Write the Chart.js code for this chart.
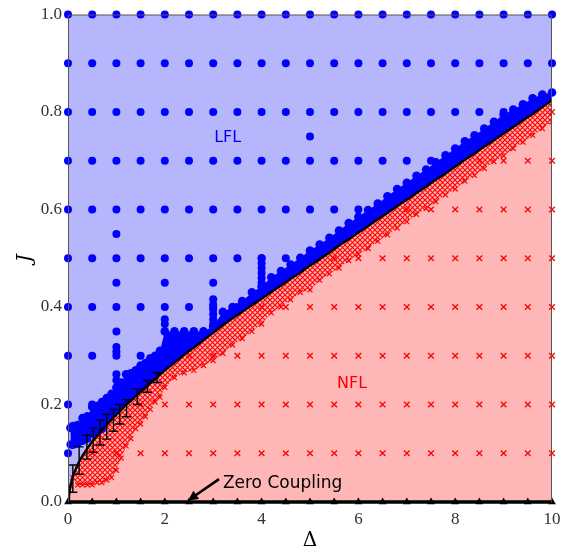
<!DOCTYPE html>
<html>
<head>
<meta charset="utf-8">
<script src="https://cdn.jsdelivr.net/npm/chart.js@4.4.1/dist/chart.umd.min.js"></script>
<style>
  html, body { margin: 0; padding: 0; background: #fff; }
</style>
</head>
<body>
<canvas id="chart" width="576" height="553"></canvas>
<script>
// coarse scan grid
const gridDelta = [0, 0.5, 1, 1.5, 2, 2.5, 3, 3.5, 4, 4.5, 5, 5.5, 6, 6.5, 7, 7.5, 8, 8.5, 9, 9.5, 10];
const gridJ = [0.1, 0.2, 0.3, 0.4, 0.5, 0.6, 0.7, 0.8, 0.9, 1.0];

// phase boundary (black curve)
const boundaryDelta = [0, 0.02, 0.05, 0.1, 0.2, 0.3, 0.4, 0.5, 0.6, 0.7, 0.8, 0.9, 1.0, 1.1, 1.2, 1.3, 1.4, 1.5, 1.6, 1.7, 1.8, 1.9, 2.0,
  2.2, 2.4, 2.6, 2.8, 3.0, 3.2, 3.4, 3.6, 3.8, 4.0, 4.2, 4.4, 4.6, 4.8, 5.0, 5.2, 5.4, 5.6, 5.8, 6.0, 6.2, 6.4, 6.6, 6.8,
  7.0, 7.2, 7.4, 7.6, 7.8, 8.0, 8.2, 8.4, 8.6, 8.8, 9.0, 9.2, 9.4, 9.6, 9.8, 10];
const boundaryJ = [0, 0.012, 0.033, 0.053, 0.077, 0.095, 0.110, 0.124, 0.136, 0.148, 0.158, 0.169, 0.179, 0.189, 0.199, 0.208, 0.217, 0.226, 0.235, 0.244, 0.252, 0.261, 0.270,
  0.286, 0.302, 0.317, 0.332, 0.347, 0.363, 0.377, 0.390, 0.404, 0.417, 0.431, 0.444, 0.458, 0.471, 0.485, 0.498, 0.512, 0.526, 0.539, 0.553, 0.566, 0.580, 0.593, 0.607,
  0.620, 0.634, 0.647, 0.661, 0.674, 0.688, 0.702, 0.715, 0.729, 0.742, 0.756, 0.769, 0.783, 0.796, 0.810, 0.824];

// refined samples hugging the boundary
const bandDelta = [0.05, 0.1, 0.2, 0.3, 0.4, 0.5, 0.6, 0.7, 0.8, 0.9, 1.0, 1.1, 1.2, 1.3, 1.4, 1.5, 1.6, 1.7, 1.8, 1.9, 2.0,
  2.2, 2.4, 2.6, 2.8, 3.0, 3.2, 3.4, 3.6, 3.8, 4.0, 4.2, 4.4, 4.6, 4.8, 5.0, 5.2, 5.4, 5.6, 5.8, 6.0, 6.2, 6.4, 6.6, 6.8,
  7.0, 7.2, 7.4, 7.6, 7.8, 8.0, 8.2, 8.4, 8.6, 8.8, 9.0, 9.2, 9.4, 9.6, 9.8, 10];
const lflTop = [0.152, 0.156, 0.158, 0.172, 0.176, 0.195, 0.197, 0.205, 0.213, 0.222, 0.235, 0.245, 0.262, 0.264, 0.270, 0.280, 0.285, 0.295, 0.300, 0.310, 0.350,
  0.350, 0.350, 0.350, 0.350, 0.360, 0.390, 0.400, 0.412, 0.430, 0.442, 0.461, 0.474, 0.487, 0.501, 0.516, 0.528, 0.542, 0.557, 0.572, 0.585, 0.599, 0.612, 0.627, 0.642,
  0.655, 0.669, 0.682, 0.697, 0.711, 0.725, 0.740, 0.752, 0.766, 0.780, 0.795, 0.805, 0.816, 0.828, 0.836, 0.840];
const lflBottomLow = [0.118, 0.117, 0.120, 0.125, 0.130, 0.140, 0.145, 0.150];
const nflBottom = [0.033, 0.050, 0.035, 0.035, 0.035, 0.035, 0.040, 0.040, 0.045, 0.050, 0.065, 0.090, 0.115, 0.130, 0.150, 0.160, 0.175, 0.190, 0.205, 0.215, 0.235,
  0.255, 0.265, 0.270, 0.280, 0.290, 0.305, 0.322, 0.335, 0.350, 0.365, 0.388, 0.400, 0.415, 0.430, 0.435, 0.455, 0.468, 0.480, 0.495, 0.508, 0.520, 0.535, 0.548, 0.562,
  0.575, 0.590, 0.602, 0.616, 0.630, 0.642, 0.658, 0.670, 0.684, 0.698, 0.710, 0.725, 0.738, 0.752, 0.766, 0.780];

// extra LFL points from the refinement columns
const extraDelta = [1, 1, 1, 1, 1, 1, 1, 2, 2, 2, 3, 3, 3, 3, 3, 3, 3, 4, 4, 4, 4, 4, 4, 5];
const extraJ = [0.55, 0.45, 0.35, 0.318, 0.308, 0.262, 0.25, 0.45, 0.375, 0.365, 0.45, 0.416, 0.405, 0.395, 0.385, 0.375, 0.365, 0.5, 0.49, 0.48, 0.47, 0.46, 0.45, 0.75];

// error bars on the boundary
const errDelta = [0.1, 0.23, 0.39, 0.52, 0.66, 0.8, 0.94, 1.07, 1.21, 1.43, 1.64, 1.84];
const errLow = [0.020, 0.057, 0.088, 0.102, 0.117, 0.129, 0.145, 0.160, 0.175, 0.200, 0.225, 0.245];
const errHigh = [0.076, 0.113, 0.137, 0.152, 0.168, 0.180, 0.190, 0.200, 0.210, 0.232, 0.250, 0.265];

const xTicks = [0, 2, 4, 6, 8, 10];
const yTicks = [0, 0.2, 0.4, 0.6, 0.8, 1.0];

const BLUE = '#0000ff', RED = '#ff0000';

const boundaryPts = boundaryDelta.map((d, i) => ({ x: d, y: boundaryJ[i] }));
const lineAt = d => boundaryJ[boundaryDelta.indexOf(d)];
// boundary value between its read samples, used to sort the grid points
function boundaryAt(d) {
  for (let i = 1; i < boundaryDelta.length; i++) {
    if (d <= boundaryDelta[i]) {
      const t = (d - boundaryDelta[i - 1]) / (boundaryDelta[i] - boundaryDelta[i - 1]);
      return boundaryJ[i - 1] + t * (boundaryJ[i] - boundaryJ[i - 1]);
    }
  }
  return boundaryJ[boundaryJ.length - 1];
}

const gridBlue = [], gridRed = [];
gridJ.forEach(j => gridDelta.forEach(d => {
  (j > boundaryAt(d) ? gridBlue : gridRed).push({ x: d, y: j });
}));

const errPts = [];
errDelta.forEach((d, i) => {
  errPts.push({ x: d, y: errLow[i] }, { x: d, y: errHigh[i] }, { x: d, y: null });
});

// red mesh pattern for the dense NFL samples
const pc = document.createElement('canvas');
pc.width = 5; pc.height = 5;
const pg = pc.getContext('2d');
pg.strokeStyle = RED; pg.lineWidth = 1.1;
pg.beginPath(); pg.moveTo(0, 0); pg.lineTo(5, 5); pg.moveTo(5, 0); pg.lineTo(0, 5); pg.stroke();
const ctx = document.getElementById('chart').getContext('2d');
const mesh = ctx.createPattern(pc, 'repeat');

const datasets = [
  // 0,1 background regions
  { data: boundaryPts, fill: 'end', backgroundColor: '#b6b6fc', borderWidth: 0, pointRadius: 0, order: 100 },
  { data: boundaryPts, fill: 'start', backgroundColor: '#ffb6b6', borderWidth: 0, pointRadius: 0, order: 99 },
  // 2,3 coarse grid
  { data: gridBlue, showLine: false, pointStyle: 'circle', pointRadius: 4, backgroundColor: BLUE, borderWidth: 0, pointBorderWidth: 0, clip: false, order: 90 },
  { data: gridRed, showLine: false, pointStyle: 'crossRot', pointRadius: 4, borderColor: RED, pointBorderWidth: 1.3, clip: false, order: 89 },
  // 4,5 NFL band
  { data: bandDelta.map(d => ({ x: d, y: lineAt(d) })), borderWidth: 0, pointRadius: 0, fill: false, order: 80 },
  { data: bandDelta.map((d, i) => ({ x: d, y: nflBottom[i] })), borderWidth: 0, pointStyle: 'crossRot', pointRadius: 3.5,
    pointBorderColor: RED, pointBorderWidth: 1.2, fill: 4, backgroundColor: mesh, order: 79 },
  // 6,7 LFL band
  { data: bandDelta.map((d, i) => ({ x: d, y: i < lflBottomLow.length ? lflBottomLow[i] : lineAt(d) })), borderWidth: 0,
    pointRadius: c => c.dataIndex < lflBottomLow.length ? 4 : 0, pointBackgroundColor: BLUE, pointBorderWidth: 0, fill: false, clip: false, order: 70 },
  { data: bandDelta.map((d, i) => ({ x: d, y: lflTop[i] })), borderWidth: 0, pointRadius: 4.3, pointBackgroundColor: BLUE, pointBorderWidth: 0,
    fill: 6, backgroundColor: BLUE, clip: false, order: 69 },
  // 8 extra refinement points
  { data: extraDelta.map((d, i) => ({ x: d, y: extraJ[i] })), showLine: false, pointRadius: 4, backgroundColor: BLUE, pointBorderWidth: 0, order: 68 },
  // 9 error bars
  { data: errPts, spanGaps: false, borderColor: '#000', borderWidth: 1.4, pointStyle: 'line', pointRadius: 4.5, pointBorderColor: '#000', pointBorderWidth: 1.4, order: 20 },
  // 10 boundary
  { data: boundaryPts, borderColor: '#000', borderWidth: 2.4, pointRadius: 0, tension: 0, order: 10 },
  // 11 zero coupling line
  { data: gridDelta.map(d => ({ x: d, y: 0 })), borderColor: '#000', borderWidth: 3.5, pointStyle: 'triangle', pointRadius: 4.5,
    pointBackgroundColor: '#000', pointBorderColor: '#000', pointBorderWidth: 0, clip: false, order: 5 }
];

const decor = {
  id: 'decor',
  afterDatasetsDraw(chart) {
    const { ctx, chartArea: a, scales: { x, y } } = chart;
    ctx.save();
    ctx.strokeStyle = '#555';
    ctx.lineWidth = 1;
    ctx.beginPath();
    ctx.moveTo(a.left + 0.5, a.bottom); ctx.lineTo(a.left + 0.5, a.top + 0.5);
    ctx.lineTo(a.right - 0.5, a.top + 0.5); ctx.lineTo(a.right - 0.5, a.bottom);
    ctx.stroke();

    ctx.textAlign = 'center';
    ctx.textBaseline = 'middle';
    ctx.font = '16px "DejaVu Sans"';
    ctx.fillStyle = BLUE;
    ctx.fillText('LFL', x.getPixelForValue(3.3), y.getPixelForValue(0.748));
    ctx.fillStyle = RED;
    ctx.fillText('NFL', x.getPixelForValue(5.87), y.getPixelForValue(0.242));
    ctx.fillStyle = '#000';
    ctx.textAlign = 'left';
    ctx.font = '17px "DejaVu Sans"';
    ctx.fillText('Zero Coupling', x.getPixelForValue(3.2), y.getPixelForValue(0.037));

    // arrow
    const x0 = x.getPixelForValue(3.12), y0 = y.getPixelForValue(0.047);
    const x1 = x.getPixelForValue(2.48), y1 = y.getPixelForValue(0.003);
    const ang = Math.atan2(y1 - y0, x1 - x0);
    ctx.strokeStyle = '#000';
    ctx.lineWidth = 2.6;
    ctx.beginPath();
    ctx.moveTo(x0, y0);
    ctx.lineTo(x1 - 7 * Math.cos(ang), y1 - 7 * Math.sin(ang));
    ctx.stroke();
    ctx.beginPath();
    ctx.moveTo(x1, y1);
    ctx.lineTo(x1 - 10 * Math.cos(ang) + 5 * Math.sin(ang), y1 - 10 * Math.sin(ang) - 5 * Math.cos(ang));
    ctx.lineTo(x1 - 10 * Math.cos(ang) - 5 * Math.sin(ang), y1 - 10 * Math.sin(ang) + 5 * Math.cos(ang));
    ctx.closePath();
    ctx.fill();
    ctx.restore();
  }
};

new Chart(ctx, {
  type: 'line',
  data: { datasets },
  options: {
    responsive: false,
    animation: false,
    events: [],
    layout: { padding: { top: 10, right: 24, left: 0, bottom: 0 } },
    plugins: { legend: { display: false }, tooltip: { enabled: false } },
    scales: {
      x: {
        type: 'linear', min: 0, max: 10,
        afterBuildTicks: s => { s.ticks = xTicks.map(v => ({ value: v })); },
        afterFit: s => { s.height = 51; },
        grid: { display: false, drawTicks: false },
        border: { display: false },
        ticks: { padding: 7, color: '#333', font: { family: '"Liberation Serif"', size: 17 }, callback: v => String(v) },
        title: { display: true, text: 'Δ', color: '#000', font: { family: '"DejaVu Serif"', size: 20 }, padding: { top: 0, bottom: 0 } }
      },
      y: {
        type: 'linear', min: 0, max: 1,
        afterBuildTicks: s => { s.ticks = yTicks.map(v => ({ value: v })); },
        afterFit: s => { s.width = 68; },
        grid: { display: false, drawTicks: false },
        border: { display: true, color: '#555', width: 1 },
        ticks: { padding: 6, color: '#333', font: { family: '"Liberation Serif"', size: 17, lineHeight: 1 }, callback: v => v.toFixed(1) },
        title: { display: true, text: 'J', color: '#000', font: { family: '"DejaVu Serif"', size: 20, style: 'italic' }, padding: { top: 14, bottom: 0 } }
      }
    }
  },
  plugins: [decor]
});
</script>
</body>
</html>
